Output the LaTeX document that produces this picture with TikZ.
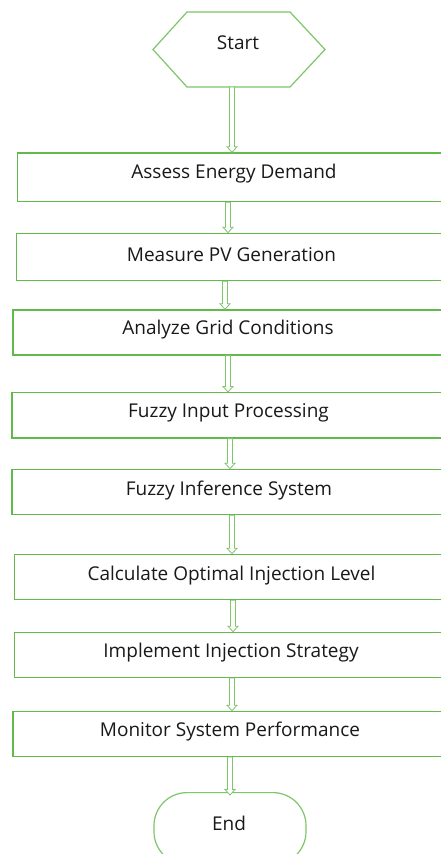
\documentclass[tikz,border=0pt]{standalone}
\usepackage{fontspec}
\setmainfont{Open Sans}
\usetikzlibrary{calc}
\definecolor{bgreen}{RGB}{98,186,76}
\definecolor{agreen}{RGB}{125,198,105}
\definecolor{txt}{RGB}{25,25,25}
\tikzset{
  box/.style={draw=bgreen, line width=1.3pt, rectangle, inner sep=0pt, anchor=north west, minimum height=#1},
  lbl/.style={text=txt, font=\fontsize{19}{23}\selectfont, inner sep=0pt, yshift=-2pt},
  blockarr/.style={draw=agreen, fill=white, line width=0.8pt,
    to path={let \p1=(\tikztostart), \p2=(\tikztotarget) in
      ({\x1-2.5pt},\y1) -- ({\x1-2.5pt},{\y2+5.5pt}) -- ({\x1-5pt},{\y2+5.5pt}) -- (\x1,\y2)
      -- ({\x1+5pt},{\y2+5.5pt}) -- ({\x1+2.5pt},{\y2+5.5pt}) -- ({\x1+2.5pt},\y1) -- cycle}}
}
\begin{document}
\begin{tikzpicture}[x=1pt,y=-1pt]
\useasboundingbox (0,0) rectangle (441,854);
\clip (0,0) rectangle (441,854);
\fill[white] (0,0) rectangle (441,854);
% start
\node[rectangle, minimum width=172pt, minimum height=75pt, inner sep=0pt, outer sep=0pt] (start) at (239,49.5) {};
\draw[agreen, line width=1.2pt, line join=miter]
  ([xshift=34pt]start.north west) -- ([xshift=-35pt]start.north east) -- (start.east)
  -- ([xshift=-35pt]start.south east) -- ([xshift=34pt]start.south west) -- (start.west) -- cycle;
\node[lbl] (tstart) at (238,41) {Start};
% boxes
\node[box=48.7pt, minimum width=433pt] (b1) at (17,152.3) {};
\node[box=47.3pt, minimum width=434pt] (b2) at (15.7,232.7) {};
\node[box=45pt, minimum width=438pt] (b3) at (12.3,309.3) {};
\node[box=45.3pt, minimum width=439pt] (b4) at (11.3,392) {};
\node[box=45.3pt, minimum width=439pt] (b5) at (11.3,468.7) {};
\node[box=45.3pt, minimum width=436pt] (b6) at (13.7,553.7) {};
\node[box=45pt, minimum width=436pt] (b7) at (13.7,631.7) {};
\node[box=45pt, minimum width=438pt] (b8) at (12.3,710.7) {};
% end
\node[draw=agreen, line width=1.2pt, rectangle, rounded corners=33pt, minimum width=152pt, minimum height=72pt, anchor=north, inner sep=0pt] (endn) at (230,792) {};
\node[lbl] (tend) at (229,821) {End};
% labels
\node[lbl] (t1) at (234,172) {Assess Energy Demand};
\node[lbl] (t2) at (231.5,253) {Measure PV Generation};
\node[lbl] (t3) at (228,328) {Analyze Grid Conditions};
\node[lbl] (t4) at (228.5,411) {Fuzzy Input Processing};
\node[lbl] (t5) at (229,489) {Fuzzy Inference System};
\node[lbl] (t6) at (231.5,574) {Calculate Optimal Injection Level};
\node[lbl] (t7) at (231,651) {Implement Injection Strategy};
\node[lbl] (t8) at (230,730) {Monitor System Performance};
% arrows
\draw[blockarr] (start.south -| 232,0) to (b1.north -| 232,0);
\draw[blockarr] (b1.south -| 228,0) to (b2.north -| 228,0);
\draw[blockarr] (b2.south -| 225,0) to (b3.north -| 225,0);
\draw[blockarr] (b3.south -| 228,0) to (b4.north -| 228,0);
\draw[blockarr] (b4.south -| 230,0) to (b5.north -| 230,0);
\draw[blockarr] (b5.south -| 232,0) to (b6.north -| 232,0);
\draw[blockarr] (b6.south -| 233,0) to (b7.north -| 233,0);
\draw[blockarr] (b7.south -| 232,0) to (b8.north -| 232,0);
\draw[blockarr] (b8.south -| 230,0) to ([yshift=-3pt]endn.north -| 230,0);
\end{tikzpicture}
\end{document}
